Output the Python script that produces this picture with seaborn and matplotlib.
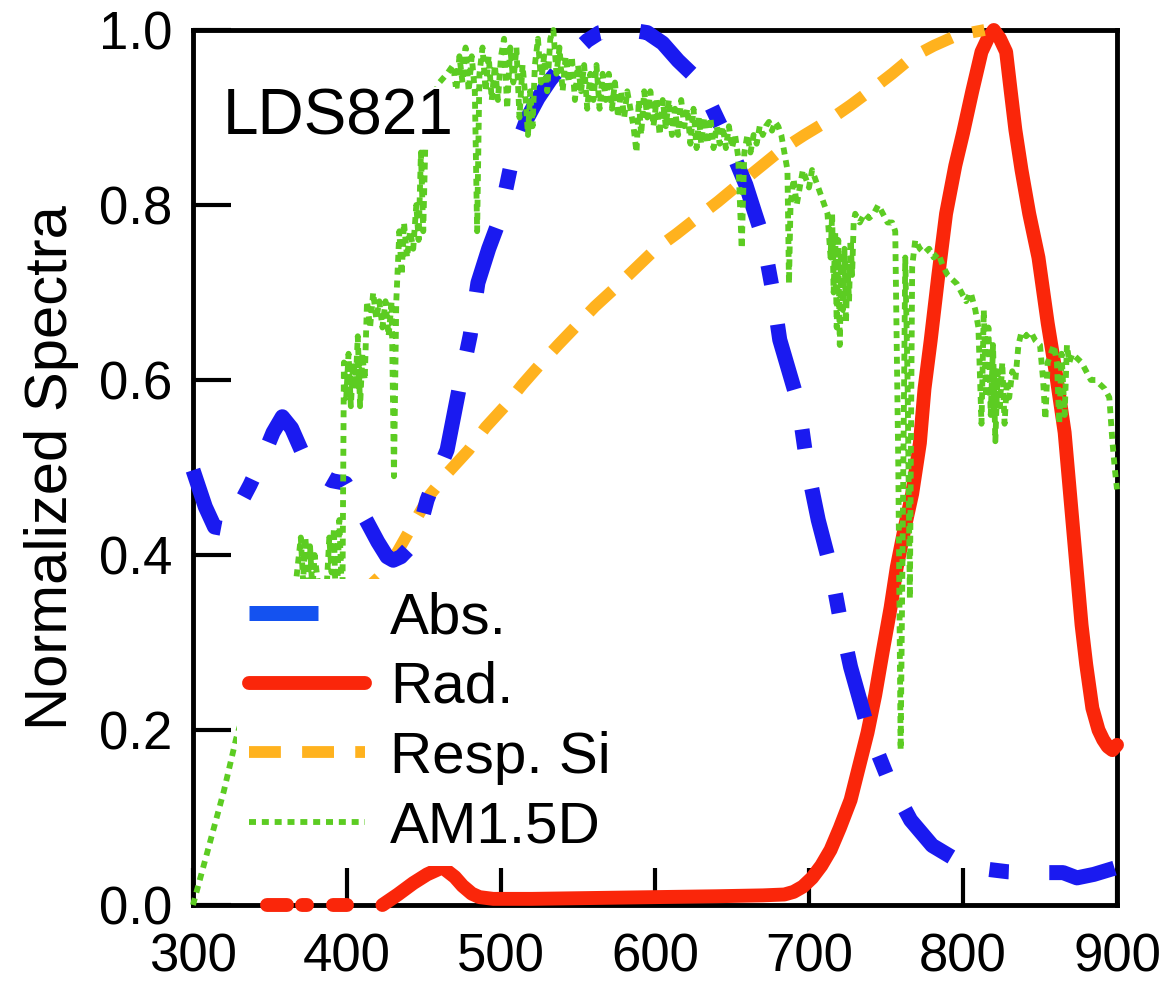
import numpy as np
import pandas as pd
import matplotlib
matplotlib.use("Agg")
import matplotlib.pyplot as plt
from matplotlib.lines import Line2D
import seaborn as sns

# ---------------- data ----------------
abs_nm = [300, 308, 314, 320, 328, 337, 345, 352, 358, 364, 371, 380, 390, 399, 406, 413, 420, 426,
          430, 435, 441, 447, 452, 458, 465, 473, 480, 485, 492, 499, 506, 512, 517, 524, 532, 540,
          548, 556, 564, 572, 580, 588, 595, 605, 615, 628, 636, 643, 651, 659, 665, 670, 676, 681,
          687, 693, 699, 706, 714, 720, 727, 738, 751, 766, 780, 799, 815, 829, 845, 856, 865, 874,
          885, 900]
abs_val = [0.497, 0.455, 0.432, 0.43, 0.45, 0.48, 0.51, 0.54, 0.558, 0.545, 0.517, 0.495, 0.485,
           0.482, 0.46, 0.438, 0.415, 0.398, 0.394, 0.398, 0.409, 0.43, 0.463, 0.49, 0.52, 0.592,
           0.651, 0.711, 0.75, 0.783, 0.842, 0.875, 0.899, 0.922, 0.943, 0.96, 0.975, 0.988, 0.997,
           1.0, 1.0, 0.999, 0.997, 0.985, 0.965, 0.943, 0.915, 0.889, 0.857, 0.823, 0.79, 0.763,
           0.706, 0.646, 0.61, 0.574, 0.50, 0.44, 0.386, 0.329, 0.272, 0.203, 0.146, 0.097, 0.068,
           0.048, 0.041, 0.038, 0.037, 0.037, 0.037, 0.031, 0.035, 0.043]

rad_nm = [348, 361, 371, 374, 391, 400,
          423, 433, 443, 452, 462, 470, 475, 481, 486, 495, 520, 560, 600, 640, 670, 684,
          690, 696, 702, 708, 714, 720, 727, 732, 738, 743, 748, 753, 757, 762, 767, 772, 775,
          779, 784, 789, 795, 800, 806, 812, 816, 820, 824, 828, 831, 834, 838, 843, 849, 855,
          861, 866, 869, 872, 875, 877, 880, 884, 888, 891, 894, 897, 900]
rad_val = [0.0, 0.0, 0.0, 0.0, 0.0, 0.0,
           0.0, 0.012, 0.025, 0.035, 0.043, 0.032, 0.022, 0.013, 0.009, 0.007, 0.007, 0.008,
           0.009, 0.01, 0.011, 0.012, 0.015, 0.021, 0.031, 0.045, 0.063, 0.088, 0.12, 0.155,
           0.197, 0.24, 0.291, 0.34, 0.386, 0.43, 0.47, 0.528, 0.59, 0.645, 0.72, 0.79, 0.845,
           0.882, 0.93, 0.975, 0.99, 1.0, 0.99, 0.975, 0.93, 0.886, 0.84, 0.79, 0.74, 0.665,
           0.6, 0.54, 0.48, 0.42, 0.36, 0.32, 0.275, 0.225, 0.2, 0.189, 0.181, 0.177, 0.183]
rad_seg = [0, 0, 1, 1, 2, 2] + [3] * 63

resp_nm = [405, 412, 421, 430, 439, 454, 466, 479, 490, 503, 514, 525, 537, 549, 561, 574, 587,
           600, 614, 627, 641, 654, 668, 682, 697, 713, 727, 740, 754, 767, 781, 795, 805, 814]
resp_val = [0.35, 0.36, 0.375, 0.395, 0.423, 0.469, 0.495, 0.52, 0.546, 0.571, 0.595, 0.617,
            0.64, 0.662, 0.684, 0.705, 0.727, 0.749, 0.767, 0.785, 0.804, 0.823, 0.843, 0.863,
            0.88, 0.897, 0.914, 0.931, 0.95, 0.969, 0.982, 0.993, 0.997, 1.0]

am_nm = [300, 310, 320, 328, 338, 348, 358, 366, 370, 371.5, 373, 374.5, 376, 377.5, 379, 381,
         383, 385, 387, 388.5, 390, 391.5, 393, 395, 397, 398, 399.5, 401, 402.5, 404, 405.5,
         407, 408.5, 410, 411.5, 413, 415, 417, 419, 421, 423, 425, 427, 429, 430.5, 432, 434,
         435.5, 437, 439, 441, 443, 445, 446.5, 448, 449.5, 451, 455, 460, 465, 469, 471, 473,
         475, 477, 479, 481, 483, 484.5, 486, 488, 490, 492, 494, 496, 498, 500, 502, 504, 506,
         508, 510, 512, 514, 516, 517.5, 519, 520.5, 522, 524, 526, 528, 530, 532, 534, 536,
         538, 540, 542, 544, 546, 548, 550, 552, 554, 556, 558, 560, 562, 564, 566, 568, 570,
         572, 574, 576, 578, 580, 582, 584, 586, 588, 589.5, 591, 593, 595, 597, 599, 601, 603,
         605, 607, 609, 611, 613, 615, 617, 619, 621, 623, 625, 627, 628.5, 630, 632, 634, 636,
         638, 640, 642, 644, 646, 648, 650, 652, 654, 656.3, 658, 660, 662, 664, 666, 668, 670,
         672, 674, 676, 678, 680, 682, 684, 686, 687, 688, 690, 692, 694, 696, 698, 700, 702,
         704, 706, 708, 710, 712, 714, 715, 716, 717, 718, 719, 720, 721, 722, 723, 724, 725,
         726, 727, 728, 729, 730, 733, 736, 739, 742, 745, 748, 751, 754, 756, 758, 759.5, 761,
         762.5, 764, 765.5, 767, 769, 772, 775, 778, 781, 784, 787, 790, 793, 796, 799, 802,
         805, 808, 810, 812, 813.5, 815, 816.5, 818, 819.5, 821, 822.5, 824, 825.5, 827, 828.5,
         830, 832, 834, 836, 838, 841, 844, 847, 850, 852, 853.5, 855, 857, 859, 861, 862.5,
         864, 866, 867.5, 869, 871, 874, 877, 880, 883, 886, 889, 892, 895, 897, 898.5, 900]
am_val = [0.0, 0.065, 0.13, 0.19, 0.25, 0.30, 0.33, 0.355, 0.42, 0.37, 0.42, 0.37, 0.41, 0.36,
          0.40, 0.37, 0.32, 0.33, 0.37, 0.42, 0.38, 0.43, 0.32, 0.44, 0.34, 0.62, 0.58, 0.63,
          0.57, 0.62, 0.59, 0.65, 0.57, 0.63, 0.60, 0.69, 0.66, 0.70, 0.67, 0.69, 0.66, 0.69,
          0.65, 0.69, 0.49, 0.69, 0.77, 0.72, 0.78, 0.74, 0.77, 0.75, 0.80, 0.76, 0.86, 0.77,
          0.88, 0.92, 0.94, 0.95, 0.96, 0.93, 0.97, 0.94, 0.98, 0.93, 0.97, 0.93, 0.77, 0.95,
          0.98, 0.93, 0.97, 0.92, 0.96, 0.92, 0.97, 0.99, 0.91, 0.98, 0.94, 0.98, 0.90, 0.96,
          0.92, 0.88, 0.93, 0.89, 0.96, 0.99, 0.94, 0.97, 0.93, 0.99, 1.0, 0.95, 0.98, 0.93,
          0.97, 0.94, 0.97, 0.92, 0.96, 0.93, 0.96, 0.91, 0.95, 0.92, 0.96, 0.91, 0.95, 0.92,
          0.95, 0.91, 0.94, 0.90, 0.93, 0.90, 0.93, 0.91, 0.89, 0.86, 0.92, 0.88, 0.93, 0.90,
          0.93, 0.89, 0.92, 0.88, 0.92, 0.89, 0.92, 0.88, 0.91, 0.88, 0.92, 0.89, 0.91, 0.87,
          0.91, 0.865, 0.90, 0.87, 0.90, 0.87, 0.90, 0.865, 0.89, 0.87, 0.89, 0.865, 0.89, 0.865,
          0.88, 0.855, 0.75, 0.86, 0.88, 0.86, 0.88, 0.87, 0.89, 0.88, 0.89, 0.895, 0.885, 0.895,
          0.89, 0.88, 0.86, 0.84, 0.71, 0.80, 0.83, 0.80, 0.82, 0.84, 0.83, 0.82, 0.84, 0.83,
          0.82, 0.81, 0.80, 0.79, 0.74, 0.79, 0.70, 0.77, 0.66, 0.76, 0.64, 0.74, 0.68, 0.75,
          0.665, 0.73, 0.69, 0.76, 0.72, 0.78, 0.79, 0.78, 0.79, 0.785, 0.79, 0.80, 0.79, 0.78,
          0.78, 0.77, 0.50, 0.177, 0.45, 0.74, 0.60, 0.35, 0.73, 0.76, 0.75, 0.745, 0.75, 0.74,
          0.745, 0.73, 0.72, 0.715, 0.71, 0.70, 0.69, 0.70, 0.68, 0.66, 0.55, 0.68, 0.58, 0.66,
          0.56, 0.64, 0.53, 0.61, 0.57, 0.62, 0.55, 0.60, 0.58, 0.61, 0.60, 0.64, 0.655, 0.65,
          0.655, 0.645, 0.64, 0.60, 0.555, 0.62, 0.63, 0.64, 0.62, 0.55, 0.63, 0.56, 0.64, 0.62,
          0.63, 0.625, 0.62, 0.61, 0.60, 0.60, 0.595, 0.59, 0.58, 0.53, 0.50, 0.475]

legend_labels = ["Abs.", "Rad.", "Resp. Si", "AM1.5D"]
x_ticks = [300, 400, 500, 600, 700, 800, 900]
y_ticks = [0.0, 0.2, 0.4, 0.6, 0.8, 1.0]
annotation = "LDS821"
y_label = "Normalized Spectra"

# ---------------- style ----------------
BLUE = "#1a1af0"
BLUE_LEG = "#1452f0"
RED = "#fa260a"
ORANGE = "#ffb21e"
GREEN = "#5ccc22"

sns.set_style("ticks")
plt.rcParams["font.family"] = ["Liberation Sans", "DejaVu Sans"]
plt.rcParams["text.color"] = "black"
plt.rcParams["axes.labelcolor"] = "black"
plt.rcParams["xtick.color"] = "black"
plt.rcParams["ytick.color"] = "black"

fig = plt.figure(figsize=(11.74, 9.84), dpi=100)
ax = fig.add_axes([193 / 1174, 79 / 984, 924 / 1174, 875 / 984])

abs_ls = (0, (4.5, 2.7, 1.3, 2.7))
resp_ls = (0, (2.7, 1.8))
am_ls = (0, (1.2, 1.0))

rad_df = pd.DataFrame({"nm": rad_nm, "val": rad_val, "seg": rad_seg})

sns.lineplot(data=rad_df, x="nm", y="val", units="seg", estimator=None, sort=False, ax=ax,
             color=RED, lw=10.0, clip_on=False, zorder=3)
sns.lineplot(x=resp_nm, y=resp_val, ax=ax, estimator=None, sort=False, color=ORANGE, lw=8.5,
             linestyle=resp_ls, clip_on=False, zorder=3.2)
sns.lineplot(x=abs_nm, y=abs_val, ax=ax, estimator=None, sort=False, color=BLUE, lw=10.8,
             linestyle=abs_ls, clip_on=False, zorder=3.4)
sns.lineplot(x=am_nm, y=am_val, ax=ax, estimator=None, sort=False, color=GREEN, lw=4.2,
             linestyle=am_ls, clip_on=False, zorder=3.6)

ax.set_xlim(300, 900)
ax.set_ylim(0, 1)
ax.set_xticks(x_ticks)
ax.set_yticks(y_ticks)
ax.set_yticklabels([f"{v:.1f}" for v in y_ticks])
ax.set_xlabel("")
ax.set_ylabel(y_label, fontsize=43, labelpad=14, color="black")

for s in ax.spines.values():
    s.set_visible(True)
    s.set_linewidth(3.5)
    s.set_color("black")

ax.tick_params(direction="in", length=27, width=3, labelsize=38, top=False, right=False,
               color="black", labelcolor="black")
ax.tick_params(axis="x", pad=20)
ax.tick_params(axis="y", pad=15)

ax.text(319.5, 0.88, annotation, fontsize=46, ha="left", va="baseline", zorder=6,
        color="black", bbox=dict(facecolor="white", edgecolor="none", pad=1))

handles = [
    Line2D([], [], color=BLUE_LEG, lw=10.8, linestyle=(0, (4.6, 10))),
    Line2D([], [], color=RED, lw=10.0),
    Line2D([], [], color=ORANGE, lw=8.5, linestyle=resp_ls),
    Line2D([], [], color=GREEN, lw=4.2, linestyle=am_ls),
]
leg = ax.legend(handles, legend_labels, loc="upper left", bbox_to_anchor=(0.0476, 0.372),
                frameon=True, facecolor="white", edgecolor="none", framealpha=1, fancybox=False,
                fontsize=42, handlelength=2.0, handletextpad=0.42, labelspacing=0.27,
                borderpad=0.2, borderaxespad=0)
leg.set_zorder(5)
for t in leg.get_texts():
    t.set_color("black")

fig.savefig("out.png", dpi=100)
